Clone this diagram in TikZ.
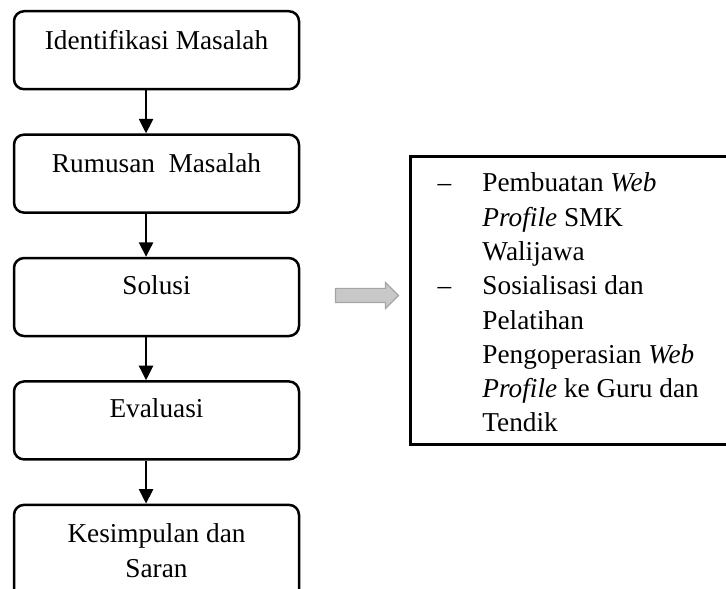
\documentclass[tikz,border=0pt]{standalone}
\usepackage{fontspec}
\setmainfont{Liberation Serif}
\usetikzlibrary{positioning,arrows.meta,shapes.arrows}

\tikzset{
  stepbox/.style={draw=black,line width=1.1pt,rounded corners=4.4pt,minimum width=125.4pt,minimum height=34.3pt,inner sep=0pt},
  steptext/.style={anchor=base,align=center,inner sep=0pt,font=\fontsize{12}{15.4}\selectfont},
  flow/.style={-{Triangle[length=6.4pt,width=6.2pt]},line width=1pt},
  listbox/.style={draw=black,line width=1.2pt,minimum width=145.6pt,minimum height=126.7pt,inner sep=0pt,anchor=north west},
  listtext/.style={inner sep=0pt,align=left,font=\fontsize{12}{15.1}\selectfont},
  grayarrow/.style={single arrow,draw={rgb,255:red,165;green,165;blue,165},fill={rgb,255:red,200;green,200;blue,200},line width=0.5pt,
    minimum height=27.7pt,inner sep=0pt,inner ysep=2.86pt,single arrow head extend=2.64pt},
}

\begin{document}
\begin{tikzpicture}[x=0.44pt,y=-0.44pt,node distance=18.9pt]
      \useasboundingbox (0,0) rectangle (726,589);
      \clip (0,0) rectangle (726,589);

      % flow on the left
      \node[stepbox,anchor=north] (ident) at (156.5,10) {};
      \node[stepbox,below=of ident] (rumus) {};
      \node[stepbox,below=of rumus] (solusi) {};
      \node[stepbox,below=of solusi] (eval) {};
      \node[stepbox,below=of eval,minimum height=46.2pt] (simpul) {};

      \node[steptext] (identT) at ([yshift=-17.6pt]ident.north) {Identifikasi Masalah};
      \node[steptext] (rumusT) at ([yshift=-17.2pt]rumus.north) {Rumusan\ \ Masalah};
      \node[steptext] (solusiT) at ([yshift=-16.7pt]solusi.north) {Solusi};
      \node[steptext] (evalT) at ([yshift=-16.5pt]eval.north) {Evaluasi};
      \node[steptext] (simpulT) at ([yshift=-32.6pt]simpul.north) {Kesimpulan dan\\Saran};

      \draw[flow] ([xshift=-4.6pt]ident.south) -- ([xshift=-4.6pt]rumus.north);
      \draw[flow] ([xshift=-4.6pt]rumus.south) -- ([xshift=-4.6pt]solusi.north);
      \draw[flow] ([xshift=-4.6pt]solusi.south) -- ([xshift=-4.6pt]eval.north);
      \draw[flow] ([xshift=-4.6pt]eval.south) -- ([xshift=-4.6pt]simpul.north);

      % solusi detail
      \node[grayarrow] (toList) at (363.5,295.5) {};
      \node[listbox] (list) at (409,155) {};

      \node[listtext,anchor=base] (dashA) at (444.5,192) {--};
      \node[listtext,anchor=base] (dashB) at (444.5,295) {--};
      \node[listtext,anchor=base west] (items) at (482,432) {Pembuatan \textit{Web}\\
        \textit{Profile} SMK\\
        Walijawa\\
        Sosialisasi dan\\
        Pelatihan\\
        Pengoperasian \textit{Web}\\
        \textit{Profile} ke Guru dan\\
        Tendik};
    \end{tikzpicture}
\end{document}
